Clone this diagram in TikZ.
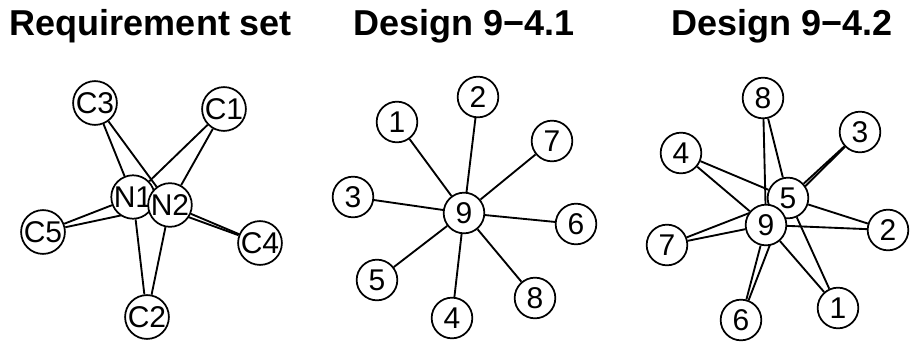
\documentclass[tikz,border=0pt]{standalone}
\usepackage{fontspec}
\setmainfont{Liberation Sans}
\pgfdeclarelayer{background}
\pgfdeclarelayer{bottom}
\pgfsetlayers{bottom,background,main}
\tikzset{
  vtx/.style={circle, draw, line width=1.3pt, fill=white, minimum size=30.5pt, inner sep=0pt, font=\fontsize{22.5}{22.5}\selectfont},
  edg/.style={line width=1.4pt},
  ttl/.style={font=\bfseries\fontsize{27}{27}\selectfont, anchor=base}
}
\begin{document}
\begin{tikzpicture}[x=0.75pt, y=-0.75pt]
\begin{pgfonlayer}{bottom}
\fill[white] (0,0) rectangle (911,343);
\end{pgfonlayer}
\useasboundingbox (0,0) rectangle (911,343);
% titles
\node[ttl] (t1) at (151,35) {Requirement set};
\node[ttl] (t2) at (464,35) {Design 9−4.1};
\node[ttl] (t3) at (782,35) {Design 9−4.2};
% panel 1
\node[vtx] (c1) at (224,109) {C1};
\node[vtx] (c2) at (147,317) {C2};
\node[vtx] (c3) at (95,103) {C3};
\node[vtx] (c4) at (260,243) {C4};
\node[vtx] (c5) at (43,232) {C5};
\node[vtx] (n1) at (133,197) {N1};
\node[vtx] (n2) at (170,205) {N2};
\begin{pgfonlayer}{background}
\foreach \c in {c1,c2,c3,c4,c5}{
  \draw[edg] (\c) -- (n1);
  \draw[edg] (\c) -- (n2);
}
\end{pgfonlayer}
% panel 2
\node[vtx] (a1) at (397,122) {1};
\node[vtx] (a2) at (478,97) {2};
\node[vtx] (a3) at (353,197) {3};
\node[vtx] (a4) at (452,318) {4};
\node[vtx] (a5) at (377,280) {5};
\node[vtx] (a6) at (576,224) {6};
\node[vtx] (a7) at (552,141) {7};
\node[vtx] (a8) at (535,298) {8};
\node[vtx] (a9) at (464,213) {9};
\begin{pgfonlayer}{background}
\foreach \c in {a1,a2,a3,a4,a5,a6,a7,a8}{
  \draw[edg] (\c) -- (a9);
}
\end{pgfonlayer}
% panel 3
\node[vtx] (b1) at (838,308) {1};
\node[vtx] (b2) at (888,230) {2};
\node[vtx] (b3) at (860,132) {3};
\node[vtx] (b4) at (681,153) {4};
\node[vtx] (b6) at (741,320) {6};
\node[vtx] (b7) at (667,245) {7};
\node[vtx] (b8) at (763,98) {8};
\node[vtx] (b5) at (788,198) {5};
\node[vtx] (b9) at (766,225) {9};
\begin{pgfonlayer}{background}
\foreach \c in {b1,b2,b3,b4,b6,b7,b8}{
  \draw[edg] (\c) -- (b5);
  \draw[edg] (\c) -- (b9);
}
\end{pgfonlayer}
\end{tikzpicture}
\end{document}
